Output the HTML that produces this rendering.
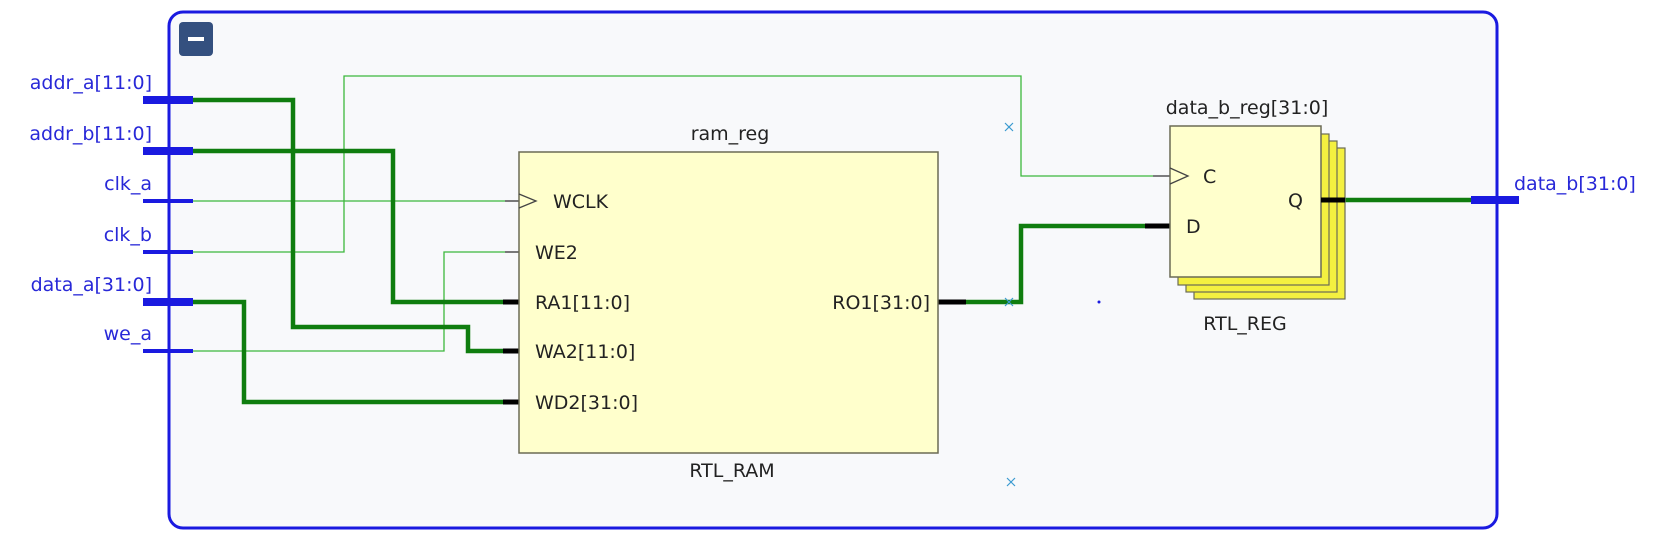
<!DOCTYPE html>
<html><head><meta charset="utf-8"><style>
html,body{margin:0;padding:0;background:#fff;}
svg{display:block;}
text{font-family:"DejaVu Sans","Liberation Sans",sans-serif;}
</style></head><body>
<svg width="1660" height="555" viewBox="0 0 1660 555" xmlns="http://www.w3.org/2000/svg">
<rect x="0" y="0" width="1660" height="555" fill="#ffffff"/>
<rect x="169" y="12" width="1328" height="516" rx="14" ry="14" fill="#f8f9fb" stroke="#1a1ae0" stroke-width="3"/>
<rect x="179" y="22" width="34" height="34" rx="4" fill="#34507f"/>
<rect x="188" y="37" width="16" height="4" fill="#fff"/>

<!-- thin wires -->
<g fill="none" stroke="#3cb83c" stroke-width="1.3">
<polyline points="193,201 505,201"/>
<polyline points="193,252 344,252 344,76 1021,76 1021,176 1153,176"/>
<polyline points="193,351 444,351 444,252 505,252"/>
</g>
<g stroke="#333" stroke-width="1.3">
<line x1="505" y1="201" x2="519" y2="201"/>
<line x1="505" y1="252" x2="519" y2="252"/>
<line x1="1153" y1="176" x2="1170" y2="176"/>
</g>
<!-- thick wires -->
<g fill="none" stroke="#0f7d0f" stroke-width="4.5">
<polyline points="193,100 293,100 293,327 468,327 468,351 505,351"/>
<polyline points="193,151 393,151 393,302 505,302"/>
<polyline points="193,302 244,302 244,402 505,402"/>
<polyline points="952,302 1021,302 1021,226 1153,226"/>
<polyline points="1340,200 1475,200"/>
</g>
<g stroke="#000" stroke-width="5">
<line x1="503" y1="302" x2="519" y2="302"/>
<line x1="503" y1="351" x2="519" y2="351"/>
<line x1="503" y1="402" x2="519" y2="402"/>
<line x1="938" y1="302" x2="966" y2="302"/>
<line x1="1145" y1="226" x2="1170" y2="226"/>
</g>

<!-- input ports -->
<g fill="#1a1ae0">
<rect x="143" y="96" width="50" height="8"/>
<rect x="143" y="147" width="50" height="8"/>
<rect x="143" y="199" width="50" height="4"/>
<rect x="143" y="250" width="50" height="4"/>
<rect x="143" y="298" width="50" height="8"/>
<rect x="143" y="349" width="50" height="4"/>
<rect x="1471" y="196" width="48" height="8"/>
</g>
<g fill="#2828d8" font-size="19" text-anchor="end">
<text x="152" y="89">addr_a[11:0]</text>
<text x="152" y="140">addr_b[11:0]</text>
<text x="152" y="190">clk_a</text>
<text x="152" y="241">clk_b</text>
<text x="152" y="291">data_a[31:0]</text>
<text x="152" y="340">we_a</text>
</g>
<text x="1514" y="190" fill="#2828d8" font-size="19">data_b[31:0]</text>

<!-- RAM -->
<rect x="519" y="152" width="419" height="301" fill="#ffffcc" stroke="#6b6b55" stroke-width="1.5"/>
<polyline points="519,194 536,201 519,208" fill="none" stroke="#444" stroke-width="1.3"/>
<g fill="#222" font-size="19">
<text x="553" y="208">WCLK</text>
<text x="535" y="259">WE2</text>
<text x="535" y="309">RA1[11:0]</text>
<text x="535" y="358">WA2[11:0]</text>
<text x="535" y="409">WD2[31:0]</text>
<text x="930" y="309" text-anchor="end">RO1[31:0]</text>
<text x="730" y="140" text-anchor="middle">ram_reg</text>
<text x="732" y="477" text-anchor="middle">RTL_RAM</text>
</g>

<!-- REG stack -->
<rect x="1194" y="148" width="151" height="151" fill="#f4f040" stroke="#6b6b55" stroke-width="1.2"/>
<rect x="1186" y="141" width="151" height="151" fill="#f4f040" stroke="#6b6b55" stroke-width="1.2"/>
<rect x="1178" y="134" width="151" height="151" fill="#f4f040" stroke="#6b6b55" stroke-width="1.2"/>
<rect x="1170" y="126" width="151" height="151" fill="#ffffcc" stroke="#6b6b55" stroke-width="1.5"/>
<line x1="1321" y1="200" x2="1345" y2="200" stroke="#000" stroke-width="5"/>
<polyline points="1170,168 1188,176 1170,184" fill="none" stroke="#444" stroke-width="1.3"/>
<g fill="#222" font-size="19">
<text x="1203" y="183">C</text>
<text x="1186" y="233">D</text>
<text x="1288" y="207">Q</text>
<text x="1247" y="114" text-anchor="middle">data_b_reg[31:0]</text>
<text x="1245" y="330" text-anchor="middle">RTL_REG</text>
</g>

<!-- x marks -->
<g stroke="#3a9ad0" stroke-width="1.2">
<path d="M1005,123 l8,8 M1013,123 l-8,8"/>
<path d="M1005,298 l8,8 M1013,298 l-8,8"/>
<path d="M1007,478 l8,8 M1015,478 l-8,8"/>
</g>
<circle cx="1099" cy="302" r="1.5" fill="#1a1ae0"/>
</svg>
</body></html>
